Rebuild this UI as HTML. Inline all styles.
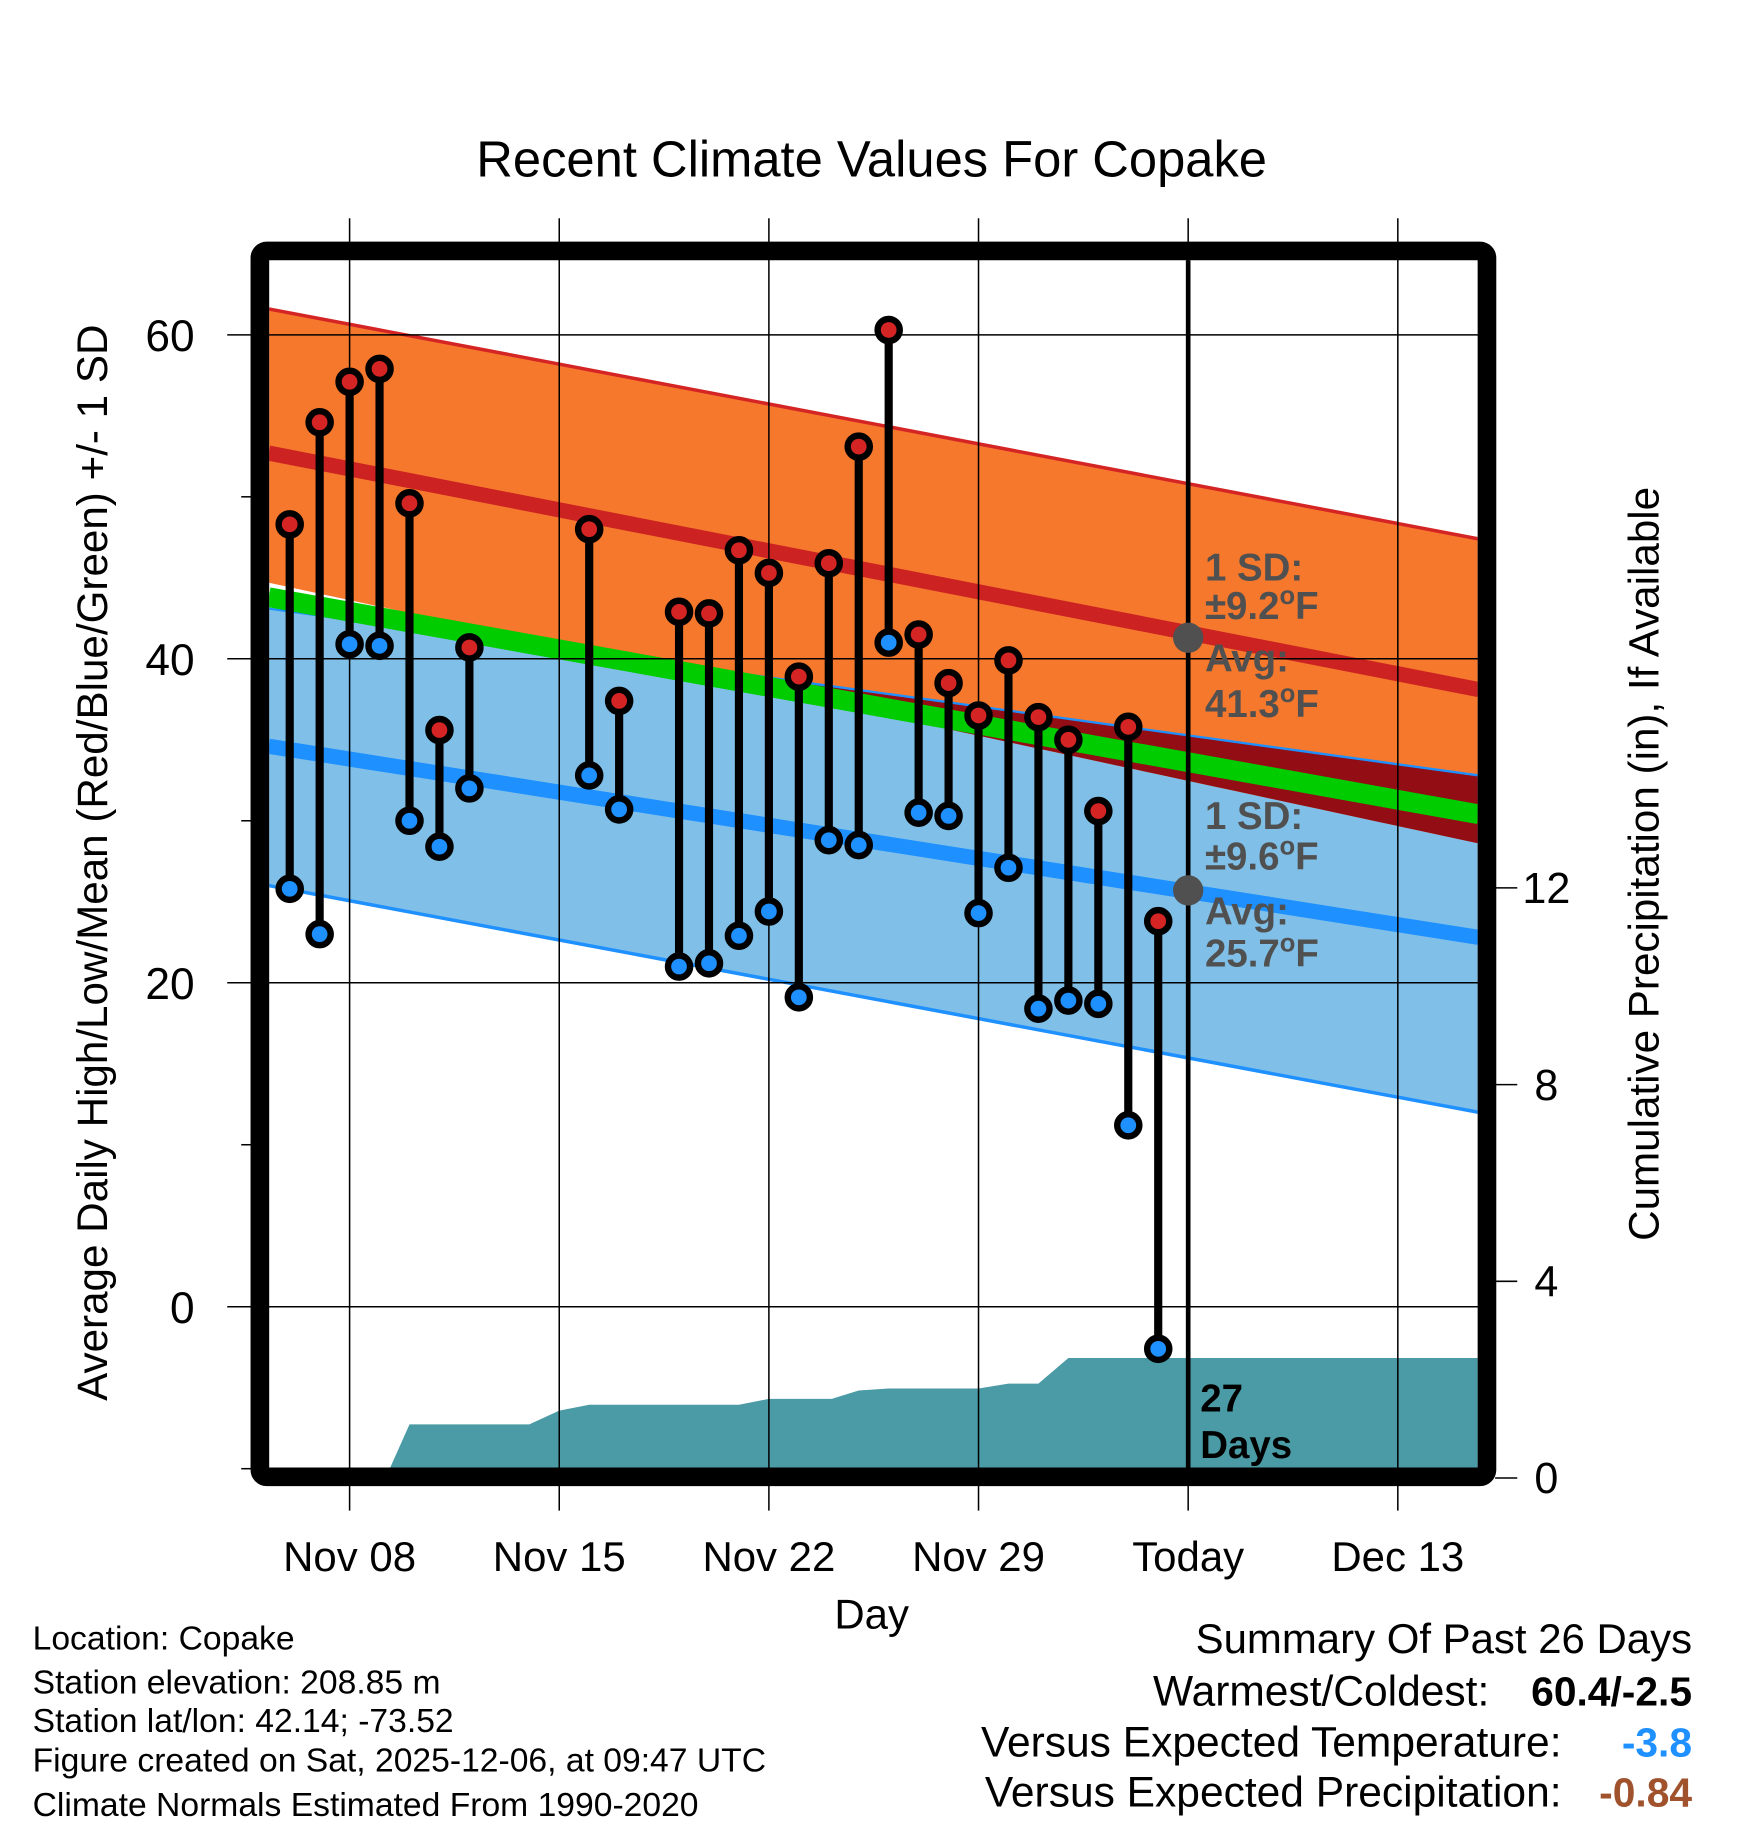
<!DOCTYPE html>
<html><head><meta charset="utf-8"><style>
html,body{margin:0;padding:0;background:#fff;}
svg{display:block;font-family:"Liberation Sans",Arial,sans-serif;}
</style></head><body>
<svg id="chart" width="1748" height="1828" viewBox="0 0 1500 1568" xmlns="http://www.w3.org/2000/svg">
<text x="748" y="151" font-size="43.5" text-anchor="middle">Recent Climate Values For Copake</text>
<g id="plot"></g>
</svg>
<script>
// ---- data ----
const dayNums = [6,7,8,9,10,11,12,16,17,19,20,21,22,23,24,25,26,27,28,29,30,31,32,33,34,35]; // days since Oct 31
const highs = [48.3,54.6,57.1,57.9,49.6,35.6,40.7,48.0,37.4,42.9,42.8,46.7,45.3,38.9,45.9,53.1,60.3,41.5,38.5,36.5,39.9,36.4,35.0,30.6,35.8,23.8];
const lows  = [25.8,23.0,40.9,40.8,30.0,28.4,32.0,32.8,30.7,21.0,21.2,22.9,24.4,19.1,28.8,28.5,41.0,30.5,30.3,24.3,27.1,18.4,18.9,18.7,11.2,-2.6];
const precipDays = [5.3,9.2,10.0,14.0,15.0,16.0,21.0,22.0,24.1,25.0,26.0,29.0,30.0,31.0,32.0,45.7];
const precipVals = [0,0,1.09,1.09,1.37,1.49,1.49,1.61,1.61,1.78,1.82,1.82,1.92,1.92,2.44,2.44];
const xTickDays = [8,15,22,29,36,43];
const xTickLabels = ["Nov 08","Nov 15","Nov 22","Nov 29","Today","Dec 13"];
const yTicks = [0,20,40,60];
const yMinor = [-10,10,30,50];
const pTicks = [0,4,8,12];
const bandDays = [5.3,45.7];
const redUpper = [61.6,47.4];
const redMean = [52.7,38.1];
const redLower = [44.7,28.6];
const blueUpper = [43.1,32.8];
const blueMean = [34.6,22.8];
const blueLower = [26.0,12.0];
const greenMid = [43.8,30.4];
const todayDay = 36;
const todayAvgHigh = 41.3, todayAvgLow = 25.7;

// ---- scales ----
const X0=231,X1=1268,Y0=223,Y1=1259;
const x = d => 300 + (d-8)*25.7;
const y = v => 1121 - v*13.9;
const py = p => 1268 - p*42.2;
const NS="http://www.w3.org/2000/svg";
const g=document.getElementById('plot');
function mk(tag,attrs,parent){const e=document.createElementNS(NS,tag);for(const k in attrs)e.setAttribute(k,attrs[k]);(parent||g).appendChild(e);return e;}
function txt(s,attrs,parent){const e=mk('text',attrs,parent);e.textContent=s;return e;}

const defs=mk('defs',{});
const cp=mk('clipPath',{id:'clip'},defs);
mk('rect',{x:X0,y:Y0,width:X1-X0,height:Y1-Y0},cp);
const inner=mk('g',{'clip-path':'url(#clip)'});



function bandPoly(up,lo,fill,name){
  const pts=[[x(bandDays[0]),y(up[0])],[x(bandDays[1]),y(up[1])],[x(bandDays[1]),y(lo[1])],[x(bandDays[0]),y(lo[0])]];
  const p=mk('polygon',{points:pts.map(q=>q.join(',')).join(' '),fill:fill},inner);
  
  
}
function line(arr,color,w,name){
  const l=mk('line',{x1:x(bandDays[0]),y1:y(arr[0]),x2:x(bandDays[1]),y2:y(arr[1]),stroke:color,'stroke-width':w},inner);
  
  
}
bandPoly(blueUpper,blueLower,'#80c0e8','low-sd-band');
bandPoly(redUpper,redLower,'#f5782d','high-sd-band');
(function(){
  const n=60,top=[],bot=[];
  for(let i=0;i<=n;i++){const t=i/n;const d=bandDays[0]+t*(bandDays[1]-bandDays[0]);
    const bu=blueUpper[0]+t*(blueUpper[1]-blueUpper[0]);const rl=redLower[0]+t*(redLower[1]-redLower[0]);
    const hi=bu, lo=Math.min(rl,bu);top.push([x(d),y(hi)]);bot.unshift([x(d),y(lo)]);}
  const p=mk('polygon',{points:top.concat(bot).map(q=>q.join(',')).join(' '),fill:'#920d14'},inner);
  
  
})();
line(redUpper,'#d42424',3,'high-upper-sd-line');
line(blueUpper,'#1e90ff',2,'low-upper-sd-line');
line(blueLower,'#1e90ff',3,'low-lower-sd-line');
line(greenMid,'#00cc00',17,'mean-line');
line(redMean,'#cc2222',13,'high-avg-line');
line(blueMean,'#1e90ff',13,'low-avg-line');

(function(){
  const pts=precipDays.map((d,i)=>[x(d),py(precipVals[i])]);
  pts.push([x(precipDays[precipDays.length-1]),py(0)+20],[x(precipDays[0]),py(0)+20]);
  const p=mk('polygon',{points:pts.map(q=>q.join(',')).join(' '),fill:'#4a9ba5'},inner);
  
  
})();

xTickDays.forEach((d,i)=>{
  const l=mk('line',{x1:x(d),y1:187,x2:x(d),y2:1296,stroke:'#000','stroke-width':1.3});
  
  
  const t=txt(xTickLabels[i],{x:x(d),y:1348,'font-size':36,'text-anchor':'middle'});
  
  
});
yTicks.forEach(v=>{
  const l=mk('line',{x1:195,y1:y(v),x2:1283,y2:y(v),stroke:'#000','stroke-width':1.3});
  
  
  const t=txt(String(v),{x:167,y:y(v)+14,'font-size':38,'text-anchor':'end'});
  
  
});
yMinor.forEach(v=>{
  const l=mk('line',{x1:207,y1:y(v),x2:216,y2:y(v),stroke:'#000','stroke-width':1.3});
  
  
});
pTicks.forEach(p=>{
  const l=mk('line',{x1:1283,y1:py(p),x2:1302,y2:py(p),stroke:'#000','stroke-width':1.3});
  
  
  const t=txt(String(p),{x:1327,y:py(p)+13,'font-size':37,'text-anchor':'middle'});
  
  
});

const tl=mk('line',{x1:x(todayDay),y1:Y0,x2:x(todayDay),y2:Y1,stroke:'#000','stroke-width':4});



const ann=[["1 SD:",487],["±9.2",520,true],["Avg:",565],[todayAvgHigh.toFixed(1),604,true],["1 SD:",700],["±9.6",735,true],["Avg:",782],[todayAvgLow.toFixed(1),818,true]];
ann.forEach(a=>{
  const t=mk('text',{x:1034,y:a[1]+11,'font-size':33,'font-weight':'bold',fill:'#505050'});
  t.textContent=a[0];
  if(a[2]){const s=mk('tspan',{dy:-13,'font-size':22},t);s.textContent='o';const f=mk('tspan',{dy:13},t);f.textContent='F';}
  
  
});
[todayAvgHigh,todayAvgLow].forEach(v=>{
  const c=mk('circle',{cx:x(todayDay),cy:y(v),r:13,fill:'#505050'});
  
  
});

dayNums.forEach((d,i)=>{
  const s=mk('line',{x1:x(d),y1:y(highs[i]),x2:x(d),y2:y(lows[i]),stroke:'#000','stroke-width':7});
  
  
  const h=mk('circle',{cx:x(d),cy:y(highs[i]),r:9.5,fill:'#d42424',stroke:'#000','stroke-width':5.5});
  
  
  const l=mk('circle',{cx:x(d),cy:y(lows[i]),r:9.5,fill:'#1e90ff',stroke:'#000','stroke-width':5.5});
  
  
});

const d1=txt("27",{x:1030,y:1211,'font-size':33,'font-weight':'bold'});


const d2=txt("Days",{x:1030,y:1251,'font-size':33,'font-weight':'bold'});



const fr=mk('rect',{x:223,y:215,width:1053,height:1052,rx:6,fill:'none',stroke:'#000','stroke-width':16});



const xt=txt("Day",{x:748,y:1397,'font-size':36,'text-anchor':'middle'});


const ylt=txt("Average Daily High/Low/Mean (Red/Blue/Green) +/- 1 SD",{x:0,y:0,'font-size':36.2,'text-anchor':'middle',transform:'translate(92,740) rotate(-90)'});


const yrt=txt("Cumulative Precipitation (in), If Available",{x:0,y:0,'font-size':36.2,'text-anchor':'middle',transform:'translate(1423,741) rotate(-90)'});



[["Location: Copake",1415],["Station elevation: 208.85 m",1453],["Station lat/lon: 42.14; -73.52",1486],["Figure created on Sat, 2025-12-06, at 09:47 UTC",1520],["Climate Normals Estimated From 1990-2020",1558]].forEach(r=>{
  const t=txt(r[0],{x:28,y:r[1],'font-size':28.9});
  
  
});
const s0=txt("Summary Of Past 26 Days",{x:1452,y:1418,'font-size':36,'text-anchor':'end'});


[["Warmest/Coldest:",1278,"60.4/-2.5","#000",1463],["Versus Expected Temperature:",1340,"-3.8","#1e90ff",1507],["Versus Expected Precipitation:",1340,"-0.84","#a0522d",1550]].forEach(r=>{
  const a=txt(r[0],{x:r[1],y:r[4],'font-size':36.5,'text-anchor':'end'});
  
  
  const b=txt(r[2],{x:1452,y:r[4],'font-size':35,'font-weight':'bold','text-anchor':'end',fill:r[3]});
  
  
});
</script>
</body></html>
